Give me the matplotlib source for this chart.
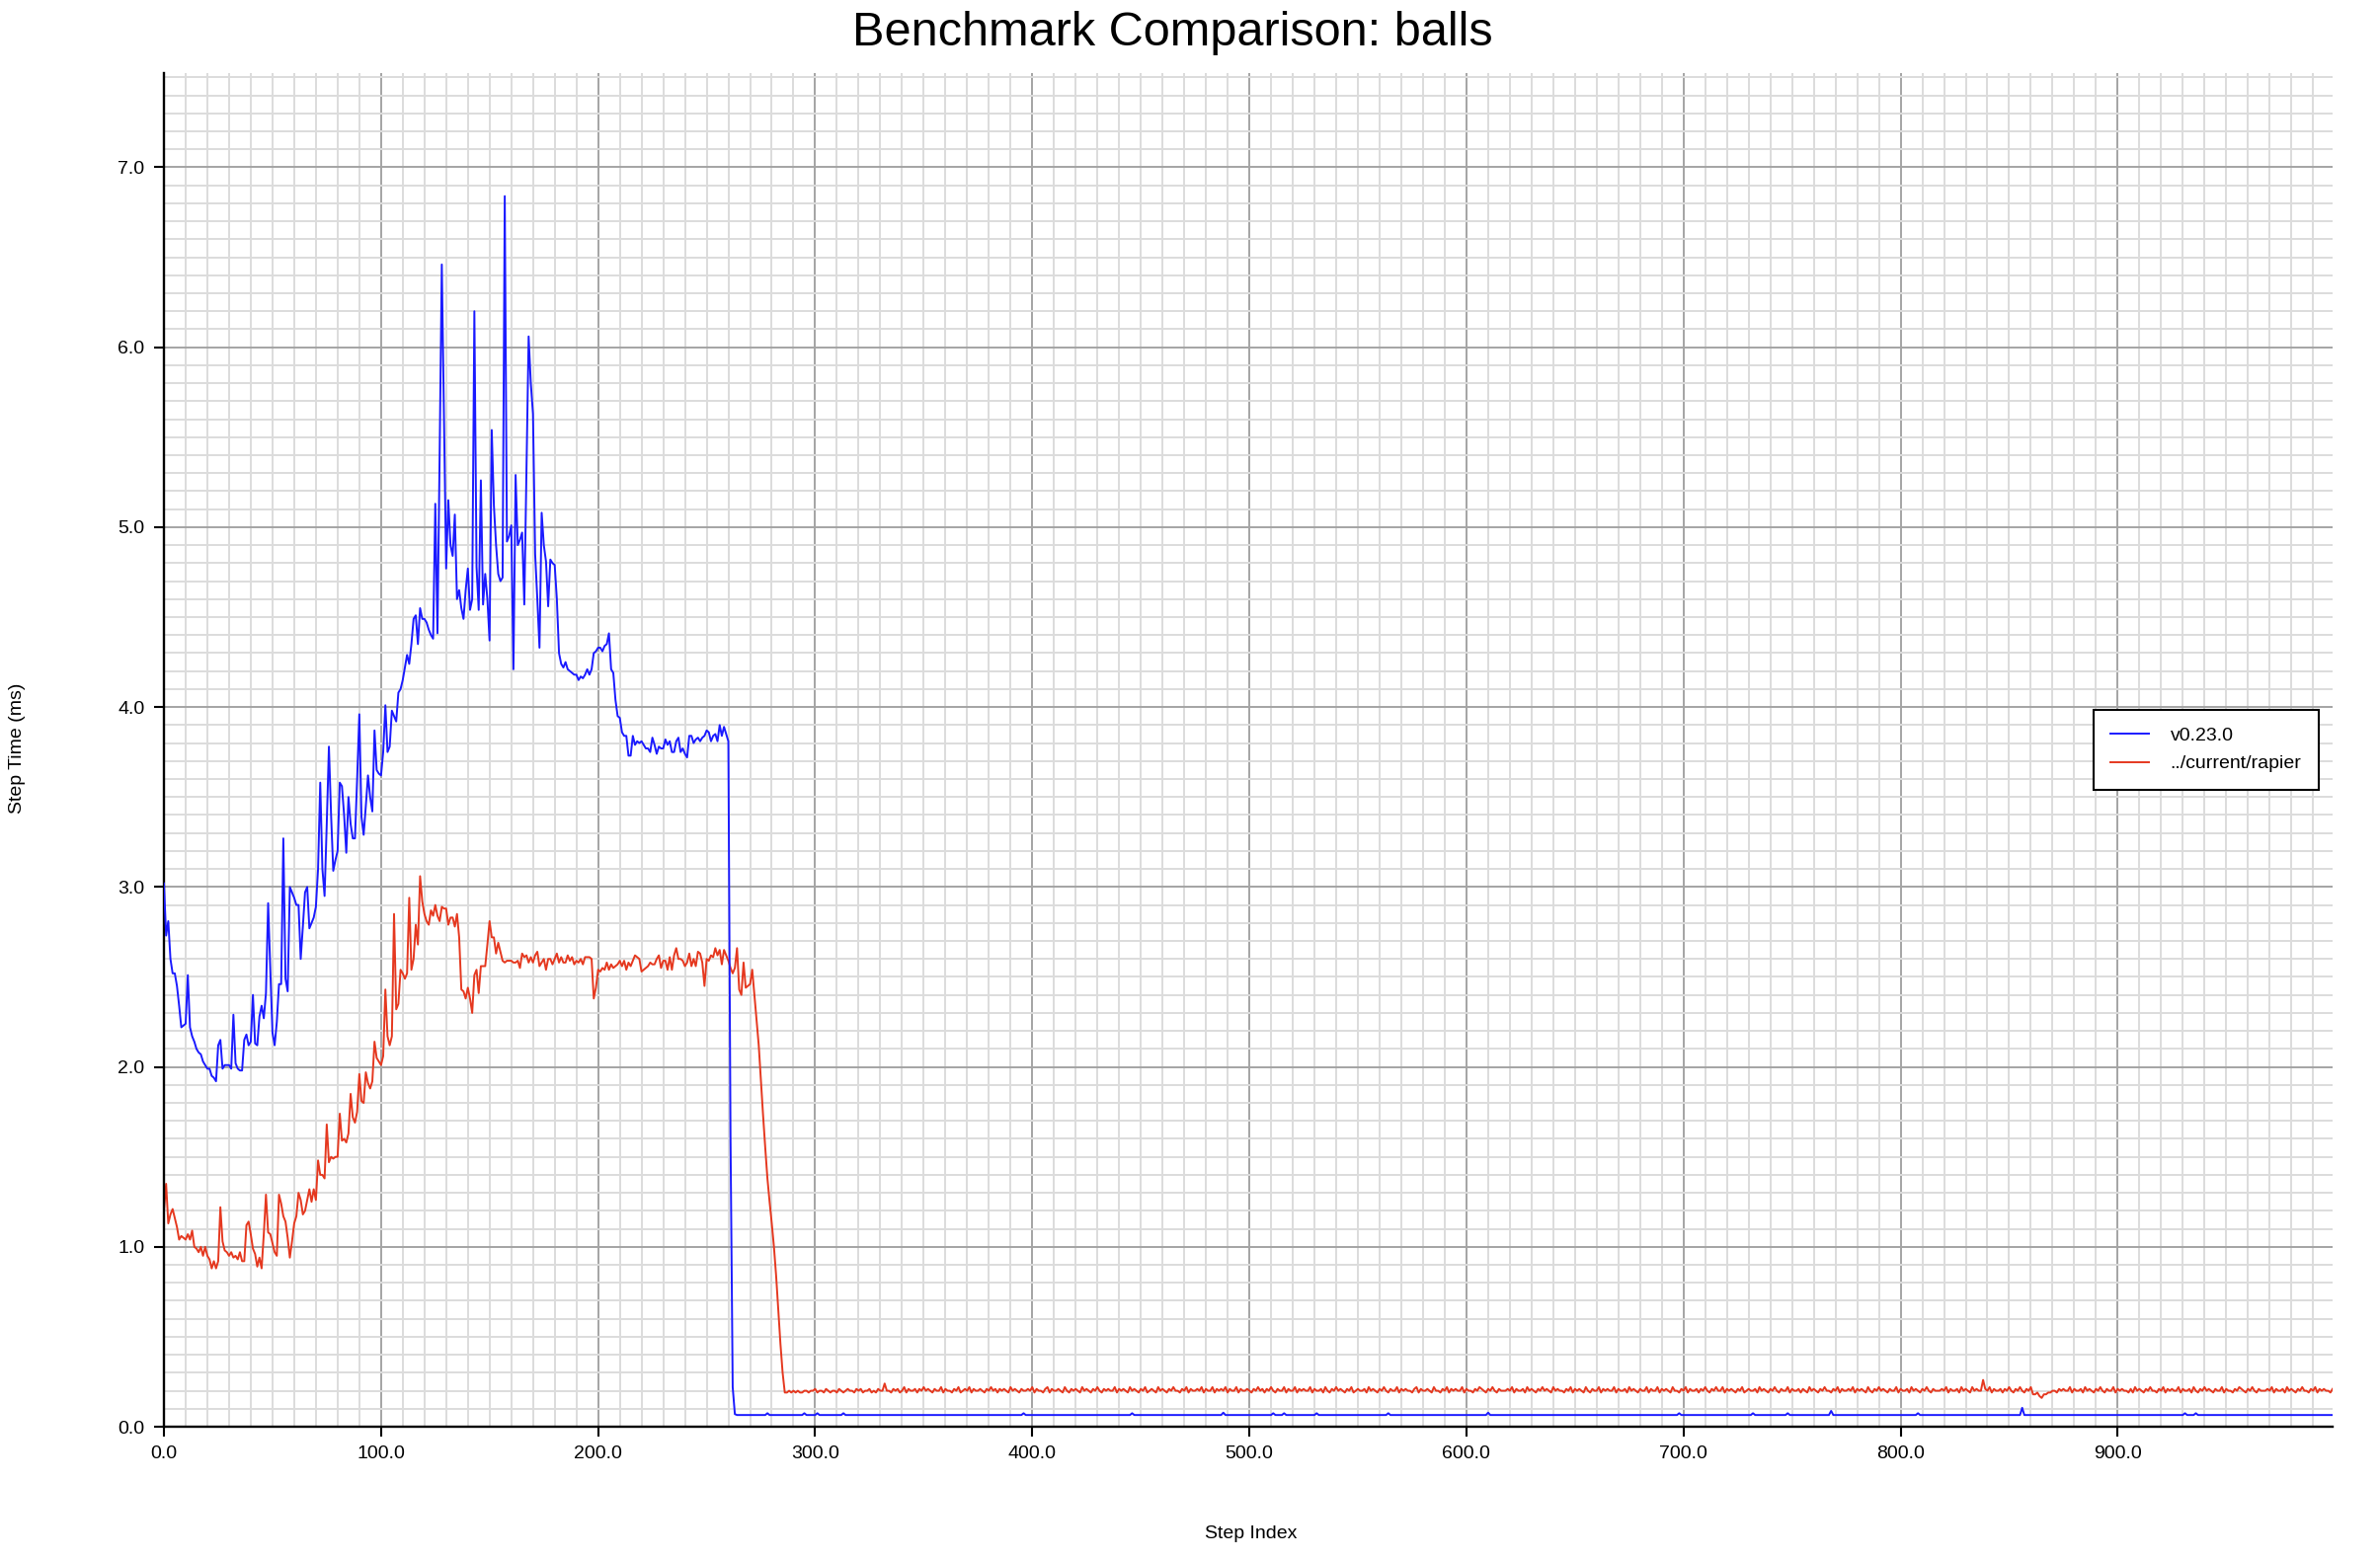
import numpy as np
import matplotlib
matplotlib.use('Agg')
import matplotlib.pyplot as plt
from matplotlib.ticker import MultipleLocator, FormatStrFormatter

plt.rcParams['font.family'] = ['Liberation Sans', 'DejaVu Sans']

n_steps = 1000

# v0.23.0, steps 0..263 (after that it sits at a flat level with small bumps)
blue_head = [
    3.02, 2.73, 2.81, 2.60, 2.52, 2.52, 2.45, 2.34, 2.22, 2.23,   # 0
    2.24, 2.51, 2.22, 2.17, 2.14, 2.10, 2.08, 2.07, 2.03, 2.01,   # 10
    1.99, 1.99, 1.95, 1.94, 1.92, 2.12, 2.15, 1.99, 2.01, 2.01,   # 20
    2.01, 1.99, 2.29, 2.02, 1.99, 1.98, 1.98, 2.15, 2.18, 2.12,   # 30
    2.14, 2.40, 2.13, 2.12, 2.28, 2.34, 2.27, 2.41, 2.91, 2.54,   # 40
    2.19, 2.12, 2.25, 2.46, 2.46, 3.27, 2.49, 2.42, 3.00, 2.97,   # 50
    2.94, 2.90, 2.90, 2.60, 2.78, 2.97, 3.00, 2.77, 2.80, 2.83,   # 60
    2.89, 3.10, 3.58, 3.10, 2.95, 3.35, 3.78, 3.40, 3.09, 3.15,   # 70
    3.20, 3.58, 3.56, 3.40, 3.19, 3.50, 3.35, 3.27, 3.27, 3.60,   # 80
    3.96, 3.39, 3.29, 3.45, 3.62, 3.50, 3.42, 3.87, 3.65, 3.63,   # 90
    3.62, 3.75, 4.01, 3.75, 3.78, 3.98, 3.95, 3.92, 4.08, 4.10,   # 100
    4.15, 4.22, 4.29, 4.24, 4.35, 4.49, 4.51, 4.35, 4.55, 4.49,   # 110
    4.49, 4.47, 4.43, 4.40, 4.38, 5.13, 4.41, 5.40, 6.46, 5.60,   # 120
    4.77, 5.15, 4.90, 4.84, 5.07, 4.60, 4.65, 4.55, 4.49, 4.65,   # 130
    4.77, 4.54, 4.60, 6.20, 4.78, 4.54, 5.26, 4.57, 4.74, 4.60,   # 140
    4.37, 5.54, 5.12, 4.90, 4.74, 4.70, 4.72, 6.84, 4.92, 4.95,   # 150
    5.01, 4.21, 5.29, 4.90, 4.93, 4.97, 4.57, 5.30, 6.06, 5.80,   # 160
    5.63, 4.85, 4.60, 4.33, 5.08, 4.90, 4.81, 4.56, 4.82, 4.80,   # 170
    4.79, 4.60, 4.30, 4.24, 4.22, 4.25, 4.21, 4.20, 4.19, 4.18,   # 180
    4.18, 4.15, 4.17, 4.16, 4.18, 4.21, 4.18, 4.21, 4.30, 4.31,   # 190
    4.33, 4.33, 4.31, 4.34, 4.35, 4.41, 4.21, 4.19, 4.04, 3.95,   # 200
    3.94, 3.86, 3.84, 3.84, 3.73, 3.73, 3.84, 3.79, 3.81, 3.80,   # 210
    3.81, 3.79, 3.77, 3.77, 3.75, 3.83, 3.79, 3.74, 3.78, 3.77,   # 220
    3.77, 3.82, 3.79, 3.81, 3.75, 3.75, 3.81, 3.83, 3.75, 3.77,   # 230
    3.74, 3.72, 3.84, 3.84, 3.80, 3.82, 3.83, 3.81, 3.83, 3.84,   # 240
    3.87, 3.86, 3.81, 3.84, 3.85, 3.81, 3.90, 3.84, 3.89, 3.85,   # 250
    3.81, 1.60, 0.22, 0.07,                                       # 260
]
blue_base = 0.065
blue_bump_steps = [278, 295, 301, 313, 396, 446, 488, 511, 516, 531, 564,
                   610, 698, 732, 748, 768, 808, 856, 931, 936]
blue_bump_values = [0.075, 0.075, 0.075, 0.075, 0.075, 0.075, 0.078, 0.075,
                    0.075, 0.075, 0.075, 0.078, 0.075, 0.075, 0.075, 0.088,
                    0.075, 0.105, 0.075, 0.075]

# ../current/rapier, steps 0..286
red_head = [
    1.20, 1.35, 1.13, 1.18, 1.21, 1.16, 1.11, 1.04, 1.06, 1.05,   # 0
    1.04, 1.07, 1.04, 1.09, 1.00, 0.99, 0.97, 1.00, 0.95, 1.00,   # 10
    0.95, 0.93, 0.88, 0.92, 0.88, 0.92, 1.22, 1.03, 0.98, 0.97,   # 20
    0.95, 0.97, 0.94, 0.95, 0.93, 0.97, 0.92, 0.92, 1.12, 1.14,   # 30
    1.07, 0.99, 0.96, 0.89, 0.94, 0.88, 1.07, 1.29, 1.08, 1.07,   # 40
    1.02, 0.97, 0.95, 1.29, 1.24, 1.17, 1.14, 1.05, 0.94, 1.03,   # 50
    1.13, 1.17, 1.30, 1.26, 1.18, 1.20, 1.26, 1.32, 1.25, 1.32,   # 60
    1.26, 1.48, 1.40, 1.40, 1.38, 1.68, 1.47, 1.50, 1.49, 1.50,   # 70
    1.50, 1.74, 1.59, 1.60, 1.58, 1.63, 1.85, 1.72, 1.69, 1.75,   # 80
    1.96, 1.81, 1.80, 1.97, 1.91, 1.88, 1.92, 2.14, 2.05, 2.03,   # 90
    2.01, 2.06, 2.43, 2.17, 2.12, 2.17, 2.85, 2.32, 2.35, 2.54,   # 100
    2.52, 2.49, 2.52, 2.94, 2.54, 2.60, 2.79, 2.68, 3.06, 2.92,   # 110
    2.85, 2.81, 2.79, 2.87, 2.84, 2.90, 2.84, 2.81, 2.89, 2.88,   # 120
    2.88, 2.79, 2.83, 2.83, 2.78, 2.85, 2.72, 2.43, 2.42, 2.38,   # 130
    2.44, 2.38, 2.30, 2.51, 2.54, 2.41, 2.56, 2.56, 2.56, 2.68,   # 140
    2.81, 2.72, 2.72, 2.63, 2.69, 2.64, 2.59, 2.58, 2.59, 2.59,   # 150
    2.59, 2.58, 2.58, 2.59, 2.55, 2.63, 2.61, 2.62, 2.58, 2.61,   # 160
    2.58, 2.62, 2.64, 2.56, 2.58, 2.60, 2.54, 2.60, 2.60, 2.57,   # 170
    2.60, 2.63, 2.58, 2.61, 2.58, 2.58, 2.62, 2.59, 2.61, 2.57,   # 180
    2.59, 2.58, 2.60, 2.57, 2.61, 2.61, 2.61, 2.60, 2.38, 2.44,   # 190
    2.54, 2.53, 2.55, 2.54, 2.58, 2.54, 2.57, 2.55, 2.56, 2.57,   # 200
    2.59, 2.56, 2.59, 2.54, 2.58, 2.56, 2.59, 2.62, 2.61, 2.60,   # 210
    2.53, 2.54, 2.55, 2.56, 2.58, 2.57, 2.57, 2.60, 2.62, 2.55,   # 220
    2.59, 2.59, 2.54, 2.61, 2.54, 2.62, 2.66, 2.60, 2.60, 2.59,   # 230
    2.56, 2.58, 2.63, 2.56, 2.60, 2.56, 2.64, 2.63, 2.58, 2.45,   # 240
    2.60, 2.59, 2.62, 2.61, 2.66, 2.62, 2.65, 2.57, 2.65, 2.62,   # 250
    2.59, 2.55, 2.52, 2.55, 2.66, 2.43, 2.40, 2.58, 2.44, 2.45,   # 260
    2.46, 2.54, 2.40, 2.26, 2.12, 1.92, 1.73, 1.55, 1.38, 1.25,   # 270
    1.13, 1.00, 0.84, 0.65, 0.46, 0.30, 0.19,                     # 280
]
# steps 287..999, one digit per step: value = 0.15 + 0.01 * digit
red_tail_digits = """
4545454455 4556455465 4554654565 5465645564 5465595546
5645746556 4657565465 5746554657 4565746556 5465756465
6547565465 5657465546 7465565475 4656547565 4657546565
5746565475 6546574565 4756546575 5465746556 5746557465
6574655746 5565465756 4657546557 4655746565 5746556475
4657565465 7456556475 6546575465 5746565546 7465565475
5465746565 5746554657 6546575465 5565746556 4756546575
6547565546 5746565475 4655746565 5746556475 6546557465
5746565475 5465746556 4657546575 5746565465 7456556475
6546575465 5746556465 4756546575 5465746556 5746565475
4657565465 5746556475 6546575465 5565746556 4756547565
5565746556 4657546575 4657334213 3445546565 5746556475
6546575465 5746565546 4756546575 5465746565 5746556475
4657565465 5746554657 6546575465 5565746556 4756546575
5465746565 546
"""
red_spike_steps = [838]
red_spike_values = [0.26]

# build the two series
blue = blue_head + [blue_base] * (n_steps - len(blue_head))
for s, v in zip(blue_bump_steps, blue_bump_values):
    blue[s] = v

red_tail = [0.15 + 0.01 * int(c) for c in red_tail_digits if c.isdigit()]
red = (red_head + red_tail)[:n_steps]
for s, v in zip(red_spike_steps, red_spike_values):
    red[s] = v

fig = plt.figure(figsize=(24.1, 15.8), dpi=100)
ax = fig.add_axes([166 / 2410, 1 - 1445 / 1580, (2362 - 166) / 2410, (1445 - 74) / 1580])

ax.plot(np.arange(len(blue)), blue, color='#1a1aff', lw=1.4, label='v0.23.0', zorder=3)
ax.plot(np.arange(len(red)), red, color='#e5381f', lw=1.4, label='../current/rapier', zorder=2)

ax.set_xlim(0, 999)
ax.set_ylim(0, max(blue) * 1.1)

ax.xaxis.set_major_locator(MultipleLocator(100))
ax.xaxis.set_minor_locator(MultipleLocator(10))
ax.yaxis.set_major_locator(MultipleLocator(1.0))
ax.yaxis.set_minor_locator(MultipleLocator(0.1))
ax.xaxis.set_major_formatter(FormatStrFormatter('%.1f'))
ax.yaxis.set_major_formatter(FormatStrFormatter('%.1f'))

ax.set_axisbelow(True)
ax.grid(which='major', color='#a4a4a4', lw=1.4)
ax.grid(which='minor', color='#dcdcdc', lw=1.4)

ax.tick_params(which='major', direction='out', length=7, width=1.5, pad=7,
               labelsize=14, colors='black')
ax.tick_params(which='minor', length=0)

for side in ['top', 'right']:
    ax.spines[side].set_visible(False)
for side in ['left', 'bottom']:
    ax.spines[side].set_linewidth(1.7)
    ax.spines[side].set_color('black')

leg = ax.legend(loc='center right', bbox_to_anchor=(0.998, 0.5), fontsize=14,
                frameon=True, fancybox=False, edgecolor='black', framealpha=1,
                borderpad=0.9, handlelength=2.0, handletextpad=1.1, labelspacing=0.55)
leg.get_frame().set_linewidth(1.5)

fig.text(0.4925, 1 - 34 / 1580, 'Benchmark Comparison: balls', ha='center', va='center', fontsize=35)
fig.text(1267 / 2410, 1 - 1554 / 1580, 'Step Index', ha='center', va='center', fontsize=14)
fig.text(18 / 2410, 1 - 758 / 1580, 'Step Time (ms)', ha='center', va='center', fontsize=14, rotation=90)

fig.savefig('out.png', dpi=100)
